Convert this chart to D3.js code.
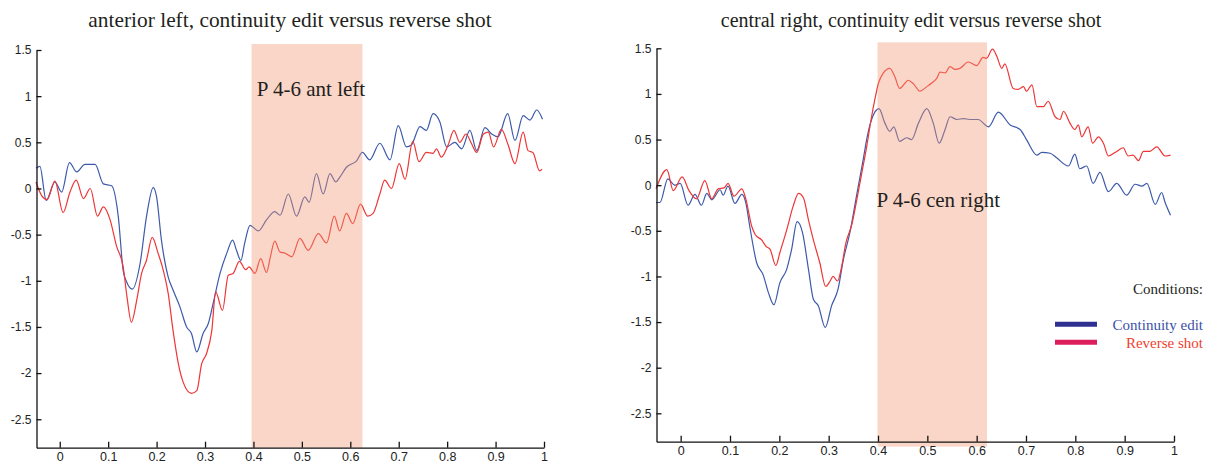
<!DOCTYPE html>
<html>
<head>
<meta charset="utf-8">
<script src="https://cdn.jsdelivr.net/npm/d3@7"></script>
<style>
  html, body { margin: 0; padding: 0; background: #fff; }
  svg { display: block; }
  .tick text { font-family: "Liberation Sans Narrow", "Liberation Sans", Arial, sans-serif; fill: #222; }
  .domain, .tick line { stroke: #111; stroke-width: 1.3; }
</style>
</head>
<body>
<svg id="chart" width="1211" height="463"></svg>
<script>
// ERP traces (microvolts) over time (s): [time, amplitude]
const antLeftContinuity = [
  [-0.049, 0.22], [-0.041, 0.24], [-0.028, -0.13], [-0.010, 0.07], [0.004, -0.04], [0.020, 0.28],
  [0.035, 0.18], [0.052, 0.26], [0.073, 0.26], [0.090, 0.05], [0.107, 0.03], [0.121, -0.31],
  [0.131, -0.89], [0.138, -1.01], [0.150, -1.09], [0.166, -0.81], [0.179, -0.31], [0.193, 0.01],
  [0.200, -0.09], [0.210, -0.56], [0.224, -0.96], [0.234, -1.10], [0.248, -1.28], [0.262, -1.50],
  [0.272, -1.57], [0.283, -1.77], [0.296, -1.57], [0.307, -1.46], [0.317, -1.24], [0.331, -0.92],
  [0.345, -0.70], [0.357, -0.56], [0.365, -0.67], [0.374, -0.78], [0.382, -0.59], [0.393, -0.40],
  [0.410, -0.46], [0.427, -0.34], [0.444, -0.25], [0.455, -0.29], [0.472, -0.06], [0.489, -0.30],
  [0.506, -0.09], [0.515, -0.15], [0.530, 0.16], [0.544, -0.06], [0.558, 0.16], [0.570, 0.07],
  [0.578, 0.12], [0.592, 0.23], [0.613, 0.30], [0.625, 0.39], [0.640, 0.31], [0.661, 0.49],
  [0.682, 0.31], [0.699, 0.68], [0.716, 0.45], [0.726, 0.47], [0.744, 0.67], [0.757, 0.63],
  [0.771, 0.81], [0.785, 0.72], [0.799, 0.45], [0.816, 0.50], [0.830, 0.43], [0.847, 0.63],
  [0.861, 0.41], [0.878, 0.66], [0.892, 0.59], [0.905, 0.56], [0.925, 0.81], [0.940, 0.52],
  [0.957, 0.79], [0.971, 0.74], [0.985, 0.85], [0.997, 0.75]
];
const antLeftReverse = [
  [-0.049, 0.07], [-0.037, -0.08], [-0.026, -0.12], [-0.010, 0.08], [0.007, -0.26], [0.021, -0.04],
  [0.034, 0.09], [0.049, -0.11], [0.063, 0.00], [0.078, -0.30], [0.090, -0.20], [0.104, -0.34],
  [0.117, -0.62], [0.131, -0.85], [0.139, -1.18], [0.148, -1.45], [0.159, -1.21], [0.169, -0.92],
  [0.179, -0.78], [0.191, -0.53], [0.203, -0.70], [0.214, -0.89], [0.224, -1.14], [0.234, -1.54],
  [0.245, -1.90], [0.255, -2.10], [0.272, -2.22], [0.283, -2.19], [0.293, -1.90], [0.303, -1.79],
  [0.314, -1.54], [0.322, -1.12], [0.336, -1.32], [0.348, -0.94], [0.358, -0.92], [0.371, -0.79],
  [0.384, -0.88], [0.391, -0.85], [0.403, -0.92], [0.415, -0.76], [0.427, -0.91], [0.435, -0.74],
  [0.444, -0.57], [0.455, -0.69], [0.465, -0.70], [0.479, -0.74], [0.496, -0.54], [0.513, -0.67],
  [0.534, -0.49], [0.551, -0.59], [0.567, -0.30], [0.578, -0.46], [0.592, -0.27], [0.605, -0.38],
  [0.621, -0.17], [0.636, -0.30], [0.647, -0.27], [0.661, -0.06], [0.671, 0.09], [0.685, 0.00],
  [0.701, 0.27], [0.713, 0.10], [0.729, 0.51], [0.742, 0.29], [0.757, 0.39], [0.771, 0.38],
  [0.778, 0.43], [0.788, 0.34], [0.802, 0.47], [0.814, 0.63], [0.826, 0.50], [0.839, 0.59],
  [0.850, 0.49], [0.861, 0.39], [0.875, 0.59], [0.885, 0.61], [0.896, 0.45], [0.912, 0.64],
  [0.926, 0.47], [0.940, 0.27], [0.957, 0.61], [0.967, 0.41], [0.977, 0.39], [0.991, 0.19],
  [0.996, 0.21]
];
const cenRightContinuity = [
  [-0.050, -0.19], [-0.042, -0.19], [-0.026, 0.07], [-0.012, 0.00], [-0.001, 0.02], [0.015, -0.22],
  [0.029, -0.10], [0.042, -0.22], [0.053, -0.09], [0.063, -0.16], [0.080, -0.05], [0.086, -0.11],
  [0.096, -0.01], [0.110, -0.20], [0.124, -0.10], [0.132, -0.19], [0.140, -0.45], [0.154, -0.85],
  [0.167, -0.98], [0.178, -1.18], [0.189, -1.31], [0.201, -1.07], [0.215, -0.92], [0.225, -0.70],
  [0.236, -0.40], [0.247, -0.52], [0.259, -0.92], [0.269, -1.25], [0.279, -1.32], [0.293, -1.56],
  [0.306, -1.32], [0.319, -1.14], [0.330, -0.81], [0.343, -0.52], [0.357, -0.10], [0.370, 0.28],
  [0.377, 0.50], [0.387, 0.72], [0.402, 0.84], [0.414, 0.68], [0.424, 0.59], [0.432, 0.64],
  [0.444, 0.48], [0.458, 0.52], [0.468, 0.50], [0.482, 0.68], [0.499, 0.84], [0.512, 0.68],
  [0.524, 0.46], [0.536, 0.61], [0.546, 0.75], [0.560, 0.72], [0.573, 0.73], [0.586, 0.72],
  [0.603, 0.72], [0.624, 0.64], [0.644, 0.80], [0.668, 0.66], [0.688, 0.61], [0.701, 0.50],
  [0.722, 0.33], [0.732, 0.36], [0.749, 0.35], [0.762, 0.30], [0.786, 0.21], [0.799, 0.34],
  [0.809, 0.18], [0.823, 0.21], [0.836, 0.02], [0.850, 0.14], [0.867, -0.07], [0.884, 0.02],
  [0.904, -0.11], [0.921, 0.01], [0.935, -0.01], [0.945, 0.02], [0.962, -0.21], [0.975, -0.08],
  [0.982, -0.19], [0.993, -0.33]
];
const cenRightReverse = [
  [-0.050, -0.04], [-0.028, 0.17], [-0.015, -0.06], [0.003, 0.09], [0.017, -0.06], [0.032, -0.15],
  [0.049, 0.05], [0.063, -0.15], [0.076, -0.04], [0.088, -0.03], [0.096, 0.02], [0.108, -0.12],
  [0.124, -0.04], [0.132, -0.15], [0.144, -0.45], [0.151, -0.54], [0.164, -0.60], [0.173, -0.67],
  [0.181, -0.70], [0.193, -0.88], [0.201, -0.74], [0.215, -0.49], [0.228, -0.23], [0.239, -0.09],
  [0.249, -0.14], [0.259, -0.38], [0.269, -0.60], [0.282, -0.85], [0.294, -1.11], [0.303, -1.05],
  [0.309, -1.00], [0.318, -1.05], [0.326, -0.90], [0.335, -0.63], [0.347, -0.43], [0.357, -0.16],
  [0.367, 0.13], [0.377, 0.42], [0.386, 0.72], [0.394, 0.95], [0.401, 1.12], [0.411, 1.23],
  [0.424, 1.28], [0.434, 1.19], [0.444, 1.06], [0.455, 1.12], [0.461, 1.15], [0.472, 1.11],
  [0.485, 1.03], [0.499, 1.08], [0.509, 1.12], [0.519, 1.17], [0.526, 1.24], [0.536, 1.23],
  [0.546, 1.30], [0.556, 1.27], [0.566, 1.28], [0.583, 1.35], [0.600, 1.31], [0.613, 1.40],
  [0.620, 1.39], [0.632, 1.49], [0.641, 1.41], [0.651, 1.28], [0.657, 1.33], [0.674, 1.06],
  [0.684, 1.05], [0.695, 1.08], [0.701, 1.03], [0.712, 1.10], [0.722, 0.86], [0.735, 0.86],
  [0.745, 0.92], [0.759, 0.75], [0.769, 0.72], [0.776, 0.81], [0.789, 0.68], [0.799, 0.61],
  [0.806, 0.66], [0.813, 0.53], [0.826, 0.64], [0.835, 0.46], [0.847, 0.53], [0.857, 0.46],
  [0.867, 0.32], [0.881, 0.36], [0.897, 0.41], [0.907, 0.32], [0.917, 0.33], [0.928, 0.27],
  [0.938, 0.37], [0.951, 0.37], [0.965, 0.42], [0.982, 0.32], [0.993, 0.33]
];

// Axis ticks and labels
const xTicks = [0, 0.1, 0.2, 0.3, 0.4, 0.5, 0.6, 0.7, 0.8, 0.9, 1];
const xTickLabels = ["0", "0.1", "0.2", "0.3", "0.4", "0.5", "0.6", "0.7", "0.8", "0.9", "1"];
const yTicks = [1.5, 1, 0.5, 0, -0.5, -1, -1.5, -2, -2.5];
const yTickLabels = ["1.5", "1", "0.5", "0", "-0.5", "-1", "-1.5", "-2", "-2.5"];

// Analysis windows (s)
const antLeftWindow = [0.396, 0.625];
const cenRightWindow = [0.399, 0.621];

const panelTitles = ["anterior left, continuity edit versus reverse shot", "central right, continuity edit versus reverse shot"];
const windowLabels = ["P 4-6 ant left", "P 4-6 cen right"];
const seriesNames = ["Continuity edit", "Reverse shot"];

const COLORS = { continuity: "#3d5aaa", reverse: "#ef3535", shade: "rgb(243,152,118)" };

const svg = d3.select("#chart");
const serif = '"Liberation Serif", "Times New Roman", serif';

const panels = [
  {
    title: panelTitles[0], titleX: 290, titleSize: 21.4,
    xRange: [36.5, 544], xDomain: [-0.048, 1],
    yRange: [447.7, 50], yDomain: [-2.808, 1.5],
    window: antLeftWindow, shadeBottom: -2.808,
    label: windowLabels[0], labelPos: [0.407, 1.0],
    cont: antLeftContinuity, rev: antLeftReverse
  },
  {
    title: panelTitles[1], titleX: 911, titleSize: 20,
    xRange: [656.5, 1174], xDomain: [-0.049, 1],
    yRange: [441.7, 48.3], yDomain: [-2.811, 1.5],
    window: cenRightWindow, shadeBottom: -2.865,
    label: windowLabels[1], labelPos: [0.397, -0.24],
    cont: cenRightContinuity, rev: cenRightReverse
  }
];

panels.forEach(p => {
  const x = d3.scaleLinear().domain(p.xDomain).range(p.xRange);
  const y = d3.scaleLinear().domain(p.yDomain).range(p.yRange);
  const g = svg.append("g");

  const line = d3.line()
    .x(d => x(d[0]))
    .y(d => y(d[1]))
    .curve(d3.curveMonotoneX);

  g.append("path").datum(p.cont)
    .attr("d", line).attr("fill", "none")
    .attr("stroke", COLORS.continuity).attr("stroke-width", 1.2)
    .attr("stroke-linejoin", "round");
  g.append("path").datum(p.rev)
    .attr("d", line).attr("fill", "none")
    .attr("stroke", COLORS.reverse).attr("stroke-width", 1.2)
    .attr("stroke-linejoin", "round");

  // translucent analysis window laid over the traces
  g.append("rect")
    .attr("x", x(p.window[0]))
    .attr("width", x(p.window[1]) - x(p.window[0]))
    .attr("y", y(1.565))
    .attr("height", y(p.shadeBottom) - y(1.565))
    .attr("fill", COLORS.shade)
    .attr("fill-opacity", 0.4);

  g.append("text")
    .attr("x", x(p.labelPos[0])).attr("y", y(p.labelPos[1]))
    .attr("font-family", serif).attr("font-size", 21)
    .attr("fill", "#231f20")
    .text(p.label);

  const yAxis = d3.axisLeft(y)
    .tickValues(yTicks)
    .tickFormat((d, i) => yTickLabels[i])
    .tickSizeInner(-5).tickSizeOuter(0).tickPadding(5);
  g.append("g")
    .attr("transform", `translate(${p.xRange[0]},0)`)
    .call(yAxis)
    .call(a => a.selectAll("text").attr("font-size", 12));

  const xAxis = d3.axisBottom(x)
    .tickValues(xTicks)
    .tickFormat((d, i) => xTickLabels[i])
    .tickSizeInner(-6).tickSizeOuter(0).tickPadding(4);
  g.append("g")
    .attr("transform", `translate(0,${p.yRange[0]})`)
    .call(xAxis)
    .call(a => a.selectAll("text").attr("font-size", 12.5));

  g.append("text")
    .attr("x", p.titleX).attr("y", 27)
    .attr("text-anchor", "middle")
    .attr("font-family", serif).attr("font-size", p.titleSize)
    .attr("fill", "#231f20")
    .text(p.title);
});

// Legend
const legend = svg.append("g").attr("font-family", serif).attr("text-anchor", "end");
legend.append("text").attr("x", 1203).attr("y", 293.5)
  .attr("font-size", 15).attr("fill", "#231f20").text("Conditions:");
const legendItems = [
  { name: seriesNames[0], swatch: "#2e3192", text: "#3c50a8", y: 324.3 },
  { name: seriesNames[1], swatch: "#dc1f5c", text: "#ef4130", y: 342.3 }
];
legendItems.forEach(it => {
  legend.append("line")
    .attr("x1", 1055).attr("x2", 1097)
    .attr("y1", it.y).attr("y2", it.y)
    .attr("stroke", it.swatch).attr("stroke-width", 5);
  legend.append("text")
    .attr("x", 1203).attr("y", it.y + 5.5)
    .attr("font-size", 15).attr("fill", it.text)
    .text(it.name);
});
</script>
</body>
</html>
